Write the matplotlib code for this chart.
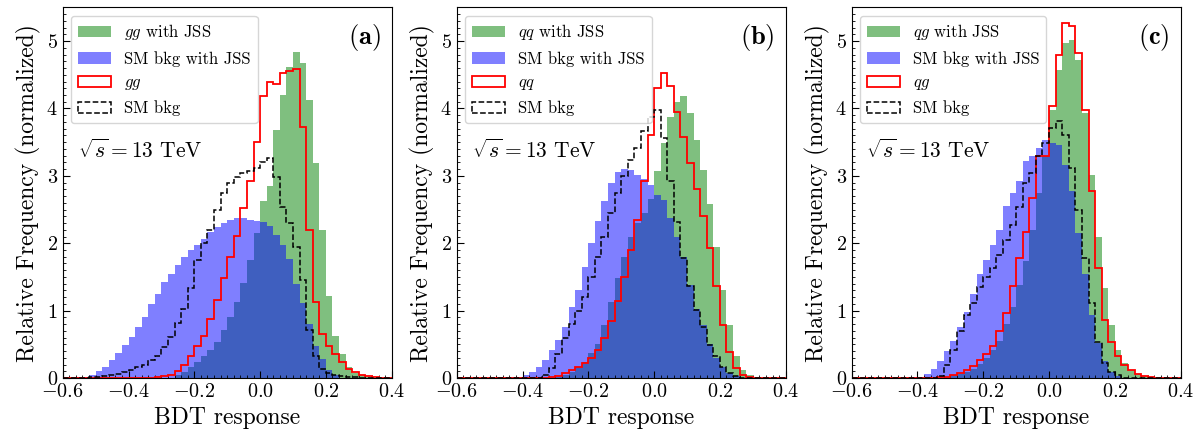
import numpy as np
import matplotlib
matplotlib.use('Agg')
import matplotlib.pyplot as plt
from matplotlib.ticker import MultipleLocator

plt.rcParams['font.family'] = 'serif'
plt.rcParams['font.serif'] = ['cmr10']
plt.rcParams['mathtext.fontset'] = 'cm'
plt.rcParams['axes.formatter.use_mathtext'] = True

# BDT response bins, width 0.02 from -0.6 to 0.4
edges = np.round(np.linspace(-0.6, 0.4, 51), 2)
centers = (edges[:-1] + edges[1:]) / 2

# (a) gg
green_a = [0, 0, 0, 0, 0, 0, 0, 0, 0, 0, 0, 0, 0, 0, 0, 0, 0,
           0.04, 0.09, 0.17, 0.24, 0.32, 0.42, 0.54, 0.71, 0.91, 1.13,
           1.41, 1.75, 2.15, 2.62, 2.85, 3.68, 4.20, 4.62, 4.84, 4.67,
           4.13, 3.19, 2.20, 1.21, 0.62, 0.35, 0.17, 0.08, 0.04, 0.02,
           0, 0, 0]
blue_a = [0, 0, 0.01, 0.02, 0.04, 0.10, 0.17, 0.27, 0.37, 0.49,
          0.61, 0.76, 0.91, 1.10, 1.25, 1.42, 1.55, 1.68, 1.80, 1.90,
          1.98, 2.06, 2.16, 2.24, 2.30, 2.35, 2.37, 2.37, 2.34, 2.33,
          2.32, 2.25, 2.12, 1.97, 1.76, 1.40, 1.11, 0.80, 0.48, 0.28,
          0.12, 0.04, 0, 0, 0, 0, 0, 0, 0, 0]
red_a = [0, 0, 0, 0, 0, 0, 0, 0, 0, 0, 0, 0, 0, 0,
         0.02, 0.03, 0.05, 0.10, 0.19, 0.33, 0.48, 0.62, 0.88, 1.16,
         1.49, 1.79, 2.11, 2.52, 2.93, 3.50, 4.18, 4.40, 4.37, 4.53,
         4.56, 4.58, 3.73, 2.20, 1.13, 0.66, 0.48, 0.36, 0.24, 0.14,
         0.09, 0.05, 0.03, 0.01, 0, 0]
black_a = [0, 0, 0, 0, 0.01, 0.02, 0.03, 0.04, 0.06, 0.09,
           0.12, 0.16, 0.20, 0.27, 0.33, 0.46, 0.61, 0.81, 1.02, 1.33,
           1.75, 2.00, 2.20, 2.50, 2.75, 2.90, 2.99, 3.04, 3.07, 3.12,
           3.21, 3.26, 2.99, 2.54, 2.30, 1.95, 1.45, 0.71, 0.32, 0.13,
           0.07, 0.04, 0.03, 0.02, 0.01, 0, 0, 0, 0, 0]

# (b) qq
green_b = [0, 0, 0, 0, 0, 0, 0, 0, 0, 0, 0, 0, 0, 0, 0,
           0.02, 0.04, 0.09, 0.17, 0.24, 0.37, 0.51, 0.79, 1.13, 1.48,
           1.80, 2.10, 2.30, 2.45, 2.65, 3.07, 3.49, 3.87, 4.10, 4.18,
           3.93, 3.53, 3.08, 2.58, 1.94, 1.30, 0.78, 0.32, 0.12, 0.04,
           0.01, 0, 0, 0, 0]
blue_b = [0, 0, 0, 0, 0, 0, 0, 0, 0.01, 0.02,
          0.04, 0.09, 0.17, 0.27, 0.42, 0.56, 0.75, 1.05, 1.30, 1.65,
          2.00, 2.33, 2.62, 2.89, 3.06, 3.10, 3.09, 3.02, 2.95, 2.86,
          2.72, 2.64, 2.37, 2.10, 1.80, 1.38, 1.03, 0.79, 0.51, 0.29,
          0.17, 0.07, 0.03, 0, 0, 0, 0, 0, 0, 0]
red_b = [0, 0, 0, 0, 0, 0, 0, 0, 0, 0, 0, 0, 0, 0,
         0.01, 0.03, 0.07, 0.12, 0.17, 0.22, 0.29, 0.42, 0.59, 0.84,
         1.15, 1.50, 1.90, 2.35, 2.92, 3.61, 4.31, 4.52, 4.34, 3.95,
         3.58, 3.19, 2.80, 2.41, 1.93, 1.36, 0.79, 0.39, 0.15, 0.04,
         0.02, 0, 0, 0, 0, 0]
black_b = [0, 0, 0, 0, 0, 0, 0, 0, 0, 0, 0, 0, 0,
           0.05, 0.15, 0.35, 0.60, 0.80, 1.00, 1.20, 1.50, 1.80, 2.10,
           2.45, 2.75, 3.00, 3.24, 3.42, 3.66, 3.88, 3.98, 3.56, 2.92,
           2.32, 1.78, 1.36, 1.01, 0.76, 0.49, 0.32, 0.17, 0.08, 0.03,
           0, 0, 0, 0, 0, 0, 0]

# (c) qg
green_c = [0, 0, 0, 0, 0, 0, 0, 0, 0, 0, 0, 0, 0, 0,
           0.02, 0.04, 0.06, 0.09, 0.14, 0.21, 0.30, 0.42, 0.55, 0.80,
           1.06, 1.38, 1.73, 2.20, 2.74, 3.29, 3.98, 4.57, 4.97, 5.02,
           4.72, 3.93, 3.01, 2.10, 1.33, 0.79, 0.42, 0.22, 0.12, 0.06,
           0.03, 0.01, 0, 0, 0, 0]
blue_c = [0, 0, 0, 0, 0, 0, 0, 0, 0, 0.01,
          0.02, 0.06, 0.14, 0.25, 0.40, 0.55, 0.75, 0.98, 1.24, 1.55,
          1.75, 1.98, 2.20, 2.55, 2.75, 2.92, 3.22, 3.30, 3.41, 3.53,
          3.49, 3.46, 3.16, 2.77, 2.15, 1.55, 0.94, 0.52, 0.25, 0.09,
          0.03, 0, 0, 0, 0, 0, 0, 0, 0, 0]
red_c = [0, 0, 0, 0, 0, 0, 0, 0, 0, 0, 0, 0, 0,
         0.01, 0.02, 0.04, 0.07, 0.12, 0.18, 0.27, 0.35, 0.47, 0.70,
         0.97, 1.36, 1.78, 2.17, 2.67, 3.29, 3.29, 4.03, 4.80, 5.27,
         5.22, 4.82, 3.98, 2.77, 1.63, 0.86, 0.54, 0.32, 0.20, 0.12,
         0.06, 0.03, 0.01, 0, 0, 0, 0]
black_c = [0, 0, 0, 0, 0, 0, 0, 0, 0, 0, 0, 0, 0,
           0.03, 0.20, 0.42, 0.70, 0.94, 1.12, 1.35, 1.50, 1.63, 1.83,
           2.05, 2.27, 2.54, 2.89, 3.04, 3.29, 3.49, 3.71, 3.81, 3.61,
           3.11, 2.49, 1.78, 1.11, 0.54, 0.22, 0.09, 0.04,
           0, 0, 0, 0, 0, 0, 0, 0, 0]

panels = [
    ('a', 'gg', green_a, blue_a, red_a, black_a),
    ('b', 'qq', green_b, blue_b, red_b, black_b),
    ('c', 'qg', green_c, blue_c, red_c, black_c),
]
lefts = [0.0523, 0.3809, 0.7103]

fig = plt.figure(figsize=(11.99, 4.37), dpi=100)

for left, (tag, proc, g, b, r, k) in zip(lefts, panels):
    ax = fig.add_axes([left, 0.135, 0.2744, 0.848])
    ax.hist(centers, bins=edges, weights=g, histtype='stepfilled',
            color='green', alpha=0.5, label=r'$%s$ with JSS' % proc)
    ax.hist(centers, bins=edges, weights=b, histtype='stepfilled',
            color='blue', alpha=0.5, label='SM bkg with JSS')
    ax.hist(centers, bins=edges, weights=r, histtype='step',
            color='red', lw=1.3, label=r'$%s$' % proc)
    ax.hist(centers, bins=edges, weights=k, histtype='step',
            color='black', ls='--', lw=1.1, label='SM bkg')

    ax.set_xlim(-0.6, 0.4)
    ax.set_ylim(0, 5.5)
    ax.xaxis.set_major_locator(MultipleLocator(0.2))
    ax.xaxis.set_minor_locator(MultipleLocator(0.02))
    ax.yaxis.set_major_locator(MultipleLocator(1))
    ax.yaxis.set_minor_locator(MultipleLocator(0.1))
    ax.tick_params(which='both', direction='in', labelsize=14.5)
    ax.tick_params(which='major', length=5)
    ax.tick_params(which='minor', length=2.5)

    ax.set_xlabel('BDT response', fontsize=17)
    ax.set_ylabel('Relative Frequency (normalized)', fontsize=17)

    ax.legend(loc='upper left', fontsize=12)
    ax.text(0.965, 0.92, r'$\mathbf{(%s)}$' % tag, transform=ax.transAxes,
            ha='right', va='center', fontsize=19)
    ax.text(0.045, 0.615, r'$\sqrt{s} = 13$ TeV', transform=ax.transAxes,
            ha='left', va='center', fontsize=15.5)

fig.savefig('out.png', dpi=100)
